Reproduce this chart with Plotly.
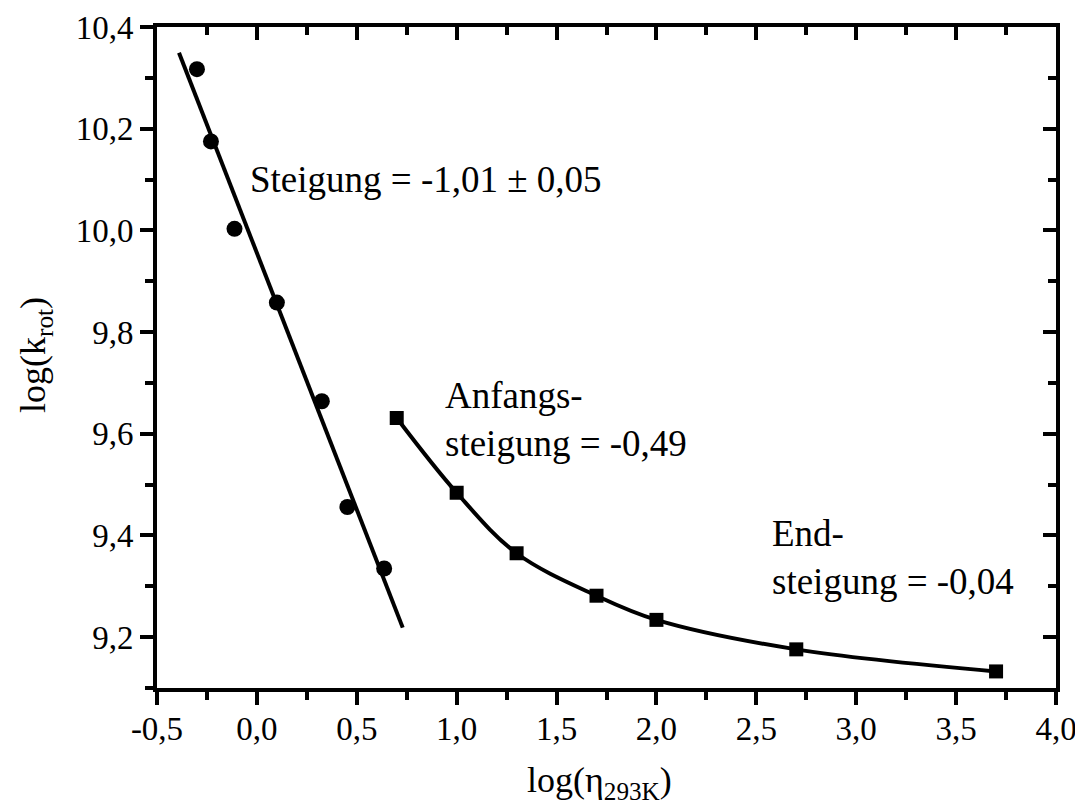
import numpy as np
import plotly.graph_objects as go

# ---- data ----
circle_x = [-0.30, -0.23, -0.112, 0.10, 0.325, 0.453, 0.637]
circle_y = [10.317, 10.175, 10.003, 9.858, 9.664, 9.456, 9.335]

square_x = [0.7, 1.0, 1.3, 1.7, 2.0, 2.7, 3.7]
square_y = [9.631, 9.484, 9.365, 9.2815, 9.234, 9.176, 9.1326]

fit_x_range = [-0.39, 0.73]  # extent of the linear fit line

x_tick_vals = [-0.5, 0.0, 0.5, 1.0, 1.5, 2.0, 2.5, 3.0, 3.5, 4.0]
x_tick_text = ["-0,5", "0,0", "0,5", "1,0", "1,5", "2,0", "2,5", "3,0", "3,5", "4,0"]
y_tick_vals = [9.2, 9.4, 9.6, 9.8, 10.0, 10.2, 10.4]
y_tick_text = ["9,2", "9,4", "9,6", "9,8", "10,0", "10,2", "10,4"]

label_main = "Steigung = -1,01 ± 0,05"
label_start = "Anfangs-<br>steigung = -0,49"
label_end = "End-<br>steigung = -0,04"
x_title = "log(η<sub>293K</sub>)"
y_title = "log(k<sub>rot</sub>)"

# ---- linear fit through the circle data ----
slope, intercept = np.polyfit(circle_x, circle_y, 1)
fx = np.array(fit_x_range)
fy = slope * fx + intercept

FONT = "'Liberation Serif', 'Times New Roman', serif"
LW = 4

fig = go.Figure()
fig.add_trace(go.Scatter(x=fx, y=fy, mode="lines",
                         line=dict(color="black", width=LW), showlegend=False))
fig.add_trace(go.Scatter(x=circle_x, y=circle_y, mode="markers",
                         marker=dict(symbol="circle", size=16, color="black"),
                         showlegend=False))
fig.add_trace(go.Scatter(x=square_x, y=square_y, mode="lines",
                         line=dict(color="black", width=LW, shape="spline", smoothing=1.0),
                         showlegend=False))
fig.add_trace(go.Scatter(x=square_x, y=square_y, mode="markers",
                         marker=dict(symbol="square", size=14, color="black"),
                         showlegend=False))
# invisible trace for the mirrored (top/right) axes
fig.add_trace(go.Scatter(x=[square_x[0]], y=[square_y[0]], xaxis="x2", yaxis="y2",
                         mode="markers", marker=dict(opacity=0), showlegend=False,
                         hoverinfo="skip"))

xr = [-0.5, 4.0]
yr = [9.1, 10.4]

axis_common = dict(showgrid=False, zeroline=False, showline=True, linecolor="black",
                   linewidth=4, tickcolor="black", tickwidth=3.5, ticklen=13,
                   automargin=False)

# page has an 8px body margin: figure is drawn 8px right/down
W, H = 1075, 803
ML, MR, MT, MB = 149, 27, 19, 123

fig.update_layout(
    width=W, height=H,
    margin=dict(l=ML, r=MR, t=MT, b=MB, autoexpand=False),
    paper_bgcolor="white", plot_bgcolor="white",
    font=dict(family=FONT, color="black", size=33),
    xaxis=dict(range=xr, tickvals=x_tick_vals, ticktext=x_tick_text, ticks="outside",
               ticklabelstandoff=-5,
               minor=dict(dtick=0.25, tick0=-0.5, ticks="outside", ticklen=8,
                          tickwidth=3.5, tickcolor="black"),
               tickfont=dict(family=FONT, size=33), **axis_common),
    yaxis=dict(range=yr, tickvals=y_tick_vals, ticktext=y_tick_text, ticks="outside",
               minor=dict(dtick=0.1, tick0=9.1, ticks="outside", ticklen=8,
                          tickwidth=3.5, tickcolor="black"),
               tickfont=dict(family=FONT, size=33), **axis_common),
    xaxis2=dict(range=xr, overlaying="x", side="top", tickvals=x_tick_vals,
                showticklabels=False, ticks="inside",
                minor=dict(dtick=0.25, tick0=-0.5, ticks="inside", ticklen=8,
                           tickwidth=3.5, tickcolor="black"),
                **axis_common),
    yaxis2=dict(range=yr, overlaying="y", side="right", tickvals=y_tick_vals,
                showticklabels=False, ticks="inside",
                minor=dict(dtick=0.1, tick0=9.1, ticks="inside", ticklen=8,
                           tickwidth=3.5, tickcolor="black"),
                **axis_common),
)

ann_font = dict(family=FONT, size=37, color="black")
fig.add_annotation(x=-0.043, y=10.100, xref="x", yref="y", text=label_main,
                   showarrow=False, xanchor="left", yanchor="middle", font=ann_font)
fig.add_annotation(x=0.93, y=9.629, xref="x", yref="y", text=label_start,
                   showarrow=False, xanchor="left", yanchor="middle", align="left",
                   font=ann_font)
fig.add_annotation(x=2.567, y=9.357, xref="x", yref="y", text=label_end,
                   showarrow=False, xanchor="left", yanchor="middle", align="left",
                   font=ann_font)

# axis titles, placed by screen-pixel position converted to paper coords
pw = W - ML - MR
ph = H - MT - MB


def to_paper(px, py):
    fx_ = px - 8
    fy_ = py - 8
    return (fx_ - ML) / pw, (H - MB - fy_) / ph


tx, ty = to_paper(599, 782)
fig.add_annotation(x=tx, y=ty, xref="paper", yref="paper", text=x_title,
                   showarrow=False, xanchor="center", yanchor="middle",
                   font=dict(family=FONT, size=36, color="black"))
tx, ty = to_paper(35, 355)
fig.add_annotation(x=tx, y=ty, xref="paper", yref="paper", text=y_title,
                   showarrow=False, textangle=-90, xanchor="center", yanchor="middle",
                   font=dict(family=FONT, size=36, color="black"))

fig.write_html("out.html")
